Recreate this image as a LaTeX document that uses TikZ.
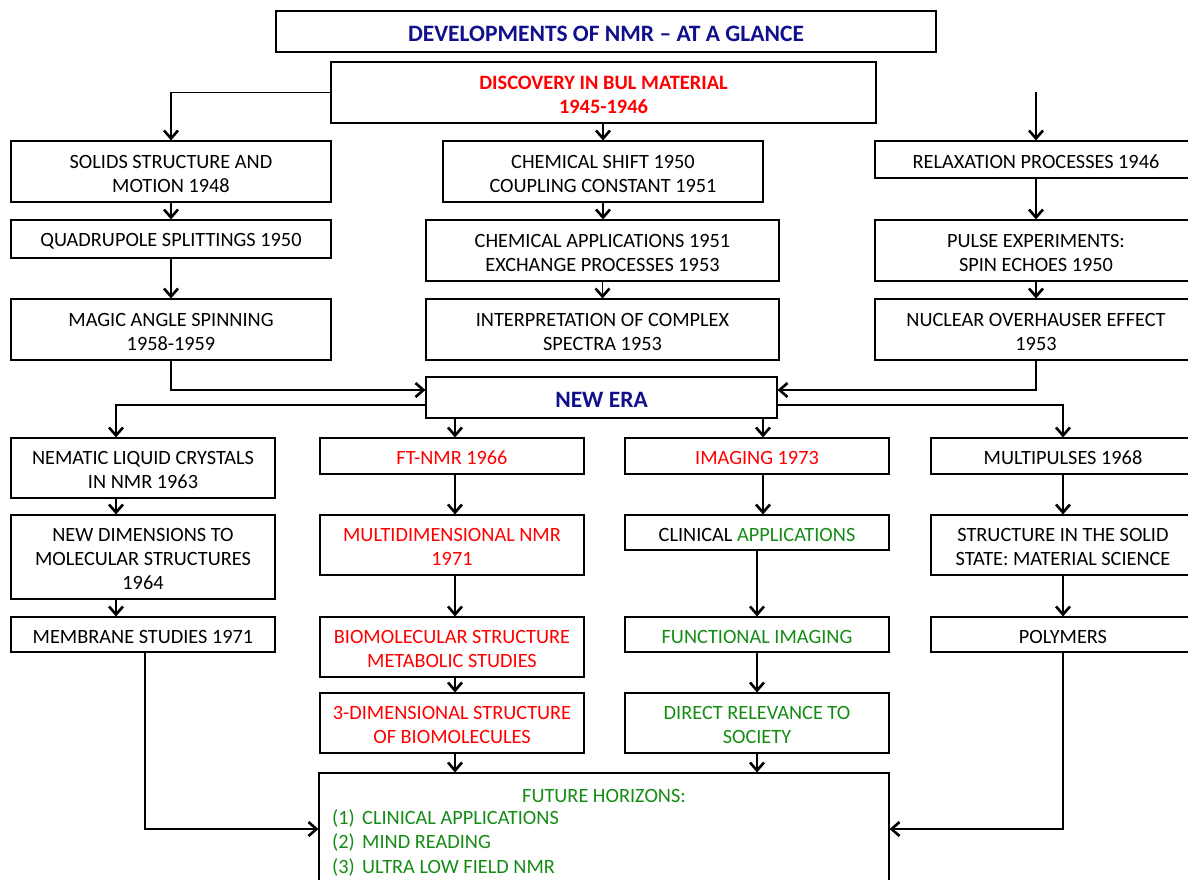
\documentclass[tikz,border=0pt]{standalone}
\usepackage{fontspec}
\setmainfont{Carlito}
\usetikzlibrary{arrows.meta}
\definecolor{navy}{RGB}{16,16,140}
\definecolor{nred}{RGB}{255,0,0}
\definecolor{ngreen}{RGB}{20,140,20}
\newcommand{\bx}[7][]{%
  \node[box,minimum width={#4-#2},minimum height={#5-#3}] (#6) at ({(#2+#4)/2},{(#3+#5)/2}) {};
  \node[btext,#1] (#6-t) at ([yshift=-2pt]#6.center) {#7};}
\begin{document}
\begin{tikzpicture}[x=1pt,y=-1pt,
  box/.style={draw,line width=1.1pt,inner sep=0pt},
  btext/.style={inner sep=0pt,align=center,font=\fontsize{20.3}{24}\selectfont},
  btitle/.style={font=\fontsize{23.5}{26}\selectfont\bfseries,text=navy},
  redt/.style={text=nred},
  greent/.style={text=ngreen},
  arr/.style={line width=1.1pt,-{Straight Barb[length=8pt,width=14pt,line width=2.6pt]}},
  ftxt/.style={inner sep=0pt,text=ngreen,font=\fontsize{20.3}{24}\selectfont}]
\useasboundingbox (0,0) rectangle (1188,879);
\clip (0,0) rectangle (1188,879);
\bx[btitle]{276}{11}{936}{52}{title}{DEVELOPMENTS OF NMR -- AT A GLANCE}
\bx[font=\fontsize{20.4}{24}\selectfont\bfseries,text=nred]{331}{62}{876}{123}{disc}{DISCOVERY IN BUL MATERIAL\\1945-1946}
\bx{11}{141}{331}{202}{solids}{SOLIDS STRUCTURE AND\\MOTION 1948}
\bx{443}{141}{763}{202}{cshift}{CHEMICAL SHIFT 1950\\COUPLING CONSTANT 1951}
\bx{875}{141}{1197}{178}{relax}{RELAXATION PROCESSES 1946}
\bx{11}{220}{331}{258}{quad}{QUADRUPOLE SPLITTINGS 1950}
\bx{426}{220}{779}{281}{capp}{CHEMICAL APPLICATIONS 1951\\EXCHANGE PROCESSES 1953}
\bx{875}{220}{1197}{281}{pulse}{PULSE EXPERIMENTS:\\SPIN ECHOES 1950}
\bx{11}{299}{331}{360}{magic}{MAGIC ANGLE SPINNING\\1958-1959}
\bx{426}{299}{779}{360}{interp}{INTERPRETATION OF COMPLEX\\SPECTRA 1953}
\bx{875}{299}{1197}{360}{noe}{NUCLEAR OVERHAUSER EFFECT\\1953}
\bx[btitle]{426}{377}{777}{418}{newera}{NEW ERA}
\bx{11}{438}{275}{498}{nematic}{NEMATIC LIQUID CRYSTALS\\IN NMR 1963}
\bx[redt]{320}{438}{584}{474}{ftnmr}{FT-NMR 1966}
\bx[redt]{625}{438}{889}{474}{imaging}{IMAGING 1973}
\bx{931}{438}{1195}{474}{multi}{MULTIPULSES 1968}
\bx{11}{515}{275}{599}{newdim}{NEW DIMENSIONS TO\\MOLECULAR STRUCTURES\\1964}
\bx[redt]{320}{515}{584}{575}{multid}{MULTIDIMENSIONAL NMR\\1971}
\bx{625}{515}{889}{550}{clin}{CLINICAL \textcolor{ngreen}{APPLICATIONS}}
\bx{931}{515}{1195}{575}{struct}{STRUCTURE IN THE SOLID\\STATE: MATERIAL SCIENCE}
\bx{11}{617}{275}{652}{membrane}{MEMBRANE STUDIES 1971}
\bx[redt]{320}{617}{584}{677}{biomol}{BIOMOLECULAR STRUCTURE\\METABOLIC STUDIES}
\bx[greent]{625}{617}{889}{652}{funct}{FUNCTIONAL IMAGING}
\bx{931}{617}{1195}{652}{polymers}{POLYMERS}
\bx[redt]{320}{693}{584}{753}{threed}{3-DIMENSIONAL STRUCTURE\\OF BIOMOLECULES}
\bx[greent]{625}{693}{889}{753}{direct}{DIRECT RELEVANCE TO\\SOCIETY}
\node[box,minimum width=570,minimum height=132] (future) at (604,839) {};
\node[ftxt] (fh) at (604,796) {FUTURE HORIZONS:};
\node[ftxt,anchor=west] (f1n) at (332,818) {(1)};
\node[ftxt,anchor=west] (f1) at (362,818) {CLINICAL APPLICATIONS};
\node[ftxt,anchor=west] (f2n) at (332,842) {(2)};
\node[ftxt,anchor=west] (f2) at (362,842) {MIND READING};
\node[ftxt,anchor=west] (f3n) at (332,867) {(3)};
\node[ftxt,anchor=west] (f3) at (362,867) {ULTRA LOW FIELD NMR};
% coordinates
\coordinate (rtop) at (1036,92);
\coordinate (yin) at (0,390);
\coordinate (yout) at (0,405);
\coordinate (fy) at (0,829);
% connectors
\draw[arr] (disc.west) -| (solids.north);
\draw[arr] (rtop) -- (relax.north);
\draw[arr] (disc.south -| cshift.north) -- (cshift.north);
\draw[arr] (solids) -- (quad);
\draw[arr] (quad) -- (magic);
\draw[arr] (cshift) -- (capp.north -| cshift);
\draw[arr] (capp) -- (interp);
\draw[arr] (relax) -- (pulse);
\draw[arr] (pulse) -- (noe);
\draw[arr] (magic.south) |- (newera.west |- yin);
\draw[arr] (noe.south) |- (newera.east |- yin);
\draw[arr] (newera.west |- yout) -| ([xshift=-27pt]nematic.north);
\draw[arr] (newera.east |- yout) -| (multi.north);
\draw[arr] ([xshift=3pt]ftnmr.north |- newera.south) -- ([xshift=3pt]ftnmr.north);
\draw[arr] ([xshift=6pt]imaging.north |- newera.south) -- ([xshift=6pt]imaging.north);
\draw[arr] ([xshift=-27pt]nematic.south) -- ([xshift=-27pt]newdim.north);
\draw[arr] ([xshift=-27pt]newdim.south) -- ([xshift=-27pt]membrane.north);
\draw[arr] ([xshift=3pt]ftnmr.south) -- ([xshift=3pt]multid.north);
\draw[arr] ([xshift=3pt]multid.south) -- ([xshift=3pt]biomol.north);
\draw[arr] ([xshift=3pt]biomol.south) -- ([xshift=3pt]threed.north);
\draw[arr] ([xshift=3pt]threed.south) -- ([xshift=3pt]threed.south |- future.north);
\draw[arr] ([xshift=6pt]imaging.south) -- ([xshift=6pt]clin.north);
\draw[arr] (clin) -- (funct);
\draw[arr] (funct) -- (direct);
\draw[arr] (direct.south) -- (direct.south |- future.north);
\draw[arr] (multi) -- (struct);
\draw[arr] (struct) -- (polymers);
\draw[arr] ([xshift=2pt]membrane.south) |- (future.west |- fy);
\draw[arr] (polymers.south) |- (future.east |- fy);
\end{tikzpicture}
\end{document}
